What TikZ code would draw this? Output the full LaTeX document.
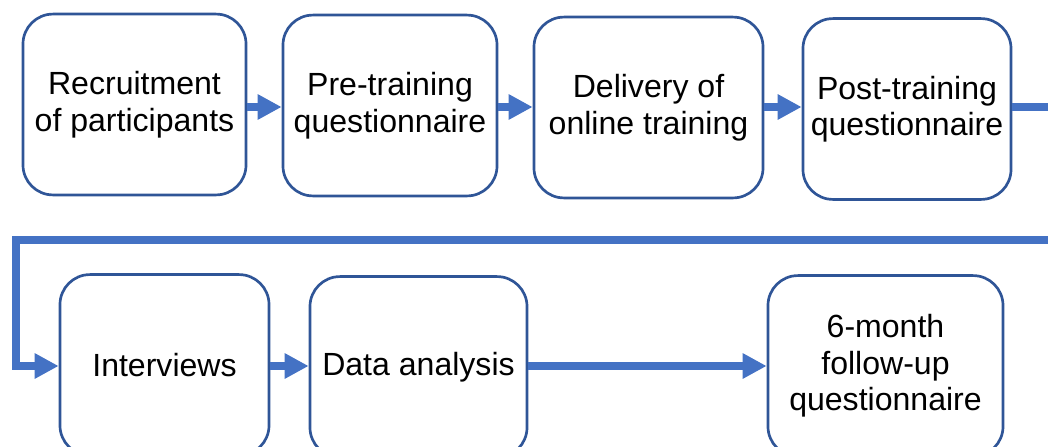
\documentclass[tikz,border=0pt]{standalone}
\usepackage{fontspec}
\setmainfont{Liberation Sans}
\usetikzlibrary{arrows.meta}
\definecolor{boxblue}{RGB}{47,85,151}
\definecolor{flowblue}{RGB}{68,114,196}

\begin{document}
\begin{tikzpicture}[x=0.025cm, y=-0.025cm,
    every node/.style={draw=boxblue, line width=1.9pt, rounded corners=0.75cm, align=center, inner sep=0pt,
        minimum height=4.52cm, font=\fontsize{22.8pt}{26pt}\selectfont},
    flow/.style={draw=flowblue, line width=5.7pt, -{Triangle[length=0.6cm, width=0.6cm]}}]
    \useasboundingbox (0,0) rectangle (1048,447);
    \clip (0,0) rectangle (1048,447);

    \node[minimum width=5.575cm] (recruit) at (134.5,104.5) {Recruitment\\of participants};
    \node[minimum width=5.35cm] (pretrain) at (390,105.5) {Pre-training\\questionnaire};
    \node[minimum width=5.725cm] (delivery) at (648.5,107.5) {Delivery of\\online training};
    \node[minimum width=5.2cm] (posttrain) at (907,109) {Post-training\\questionnaire};
    \node[minimum width=5.225cm] (interviews) at (164.5,365) {Interviews};
    \node[minimum width=5.425cm] (analysis) at (418.5,367) {Data analysis};
    \node[minimum width=5.875cm] (followup) at (885.5,366) {6-month\\follow-up\\questionnaire};

    \coordinate (toprow) at (0,107);
    \coordinate (botrow) at (0,366);
    \coordinate (rturn) at (1070,240);
    \coordinate (lturn) at (16,240);

    \draw[flow] (recruit.east |- toprow) -- (pretrain.west |- toprow);
    \draw[flow] (pretrain.east |- toprow) -- (delivery.west |- toprow);
    \draw[flow] (delivery.east |- toprow) -- (posttrain.west |- toprow);
    \draw[flow] (posttrain.east |- toprow) -| (rturn) -- (lturn) |- (interviews.west |- botrow);
    \draw[flow] (interviews.east |- botrow) -- (analysis.west |- botrow);
    \draw[flow] (analysis.east |- botrow) -- (followup.west |- botrow);
\end{tikzpicture}
\end{document}
